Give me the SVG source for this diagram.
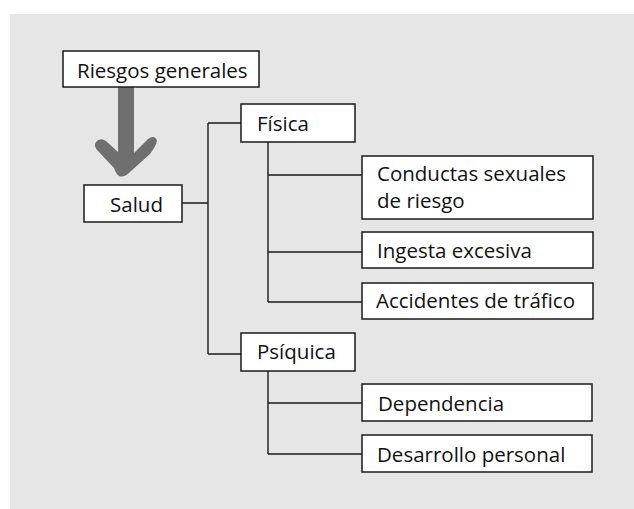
<svg xmlns="http://www.w3.org/2000/svg" width="634" height="509" viewBox="0 0 634 509">
<style>
.box{fill:#fff;stroke:#1a1a1a;stroke-width:1.5}
.lbl{font-family:"Open Sans","Noto Sans","Liberation Sans",sans-serif;font-size:20.5px;fill:#111}
.conn{fill:none;stroke:#1a1a1a;stroke-width:1.4}
</style>
<rect x="10" y="14" width="624" height="495" fill="#e6e6e6"/>
<g id="connectors">
<path class="conn" d="M182,203 H208 M208,123 V354 M208,123 H241 M208,354 H241"/>
<path class="conn" d="M268,142 V302 M268,175 H362 M268,252 H362 M268,302 H362"/>
<path class="conn" d="M268,371 V454 M268,403 H362 M268,454 H362"/>
<path id="arrow" d="M118,85 H134 V153 L148,139 Q155,134 157,141 Q156,146 150,154 L130,172 Q124,178 119,176 Q116,174 114,168 L98,151 Q93,146 96,142 Q100,137 106,141 L118,152 Z" fill="#6f6f6f"/>
</g>
<g id="riesgos"><rect class="box" x="63" y="51" width="196" height="36"/><text class="lbl" x="77" y="77.5">Riesgos generales</text></g>
<g id="salud"><rect class="box" x="84" y="185" width="98" height="37"/><text class="lbl" x="110" y="211.5">Salud</text></g>
<g id="fisica"><rect class="box" x="241" y="104" width="114" height="38"/><text class="lbl" x="257" y="130.5">Física</text></g>
<g id="conductas"><rect class="box" x="362" y="156" width="231" height="63"/><text class="lbl" x="377" y="181">Conductas sexuales</text><text class="lbl" x="377" y="208">de riesgo</text></g>
<g id="ingesta"><rect class="box" x="362" y="232" width="231" height="36"/><text class="lbl" x="377" y="257.5">Ingesta excesiva</text></g>
<g id="accidentes"><rect class="box" x="362" y="283" width="231" height="36"/><text class="lbl" x="376" y="307.5">Accidentes de tráfico</text></g>
<g id="psiquica"><rect class="box" x="241" y="333" width="114" height="38"/><text class="lbl" x="257" y="359">Psíquica</text></g>
<g id="dependencia"><rect class="box" x="362" y="384" width="230" height="37"/><text class="lbl" x="378" y="410.5">Dependencia</text></g>
<g id="desarrollo"><rect class="box" x="362" y="435" width="230" height="37"/><text class="lbl" x="377" y="461.5">Desarrollo personal</text></g>
</svg>
